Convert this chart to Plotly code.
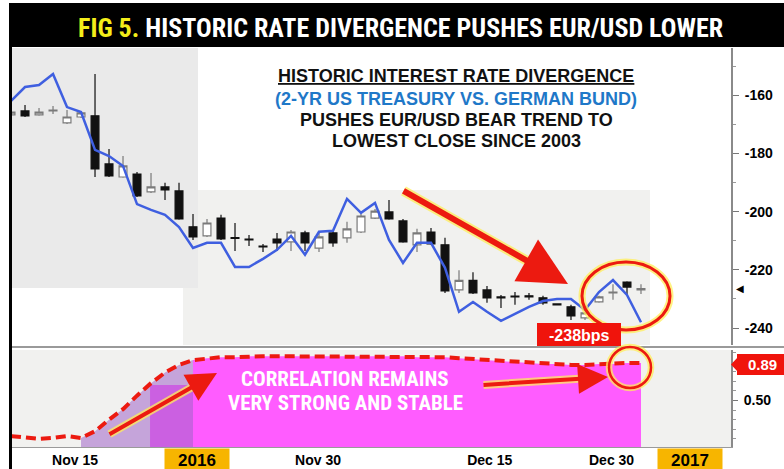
import math
import plotly.graph_objects as go

# ---------------- data ----------------
idx = list(range(46))

spread = [-162.0, -157.2, -156.5, -152.7, -164.1, -165.8, -178.8, -180.9, -184.3, -197.4,
          -199.4, -201.1, -205.3, -212.5, -210.7, -210.7, -219.0, -219.0, -216.2, -213.1,
          -208.3, -214.8, -206.9, -206.6, -195.6, -200.4, -197.0, -209.7, -217.6, -210.7,
          -210.7, -219.3, -234.4, -231.0, -234.4, -237.5, -235.1, -232.7, -230.7, -230.0,
          -230.0, -233.8, -227.6, -223.5, -228.6, -238.0]

opens = [-166.8, -165.4, -166.8, -165.4, -169.5, -167.5, -167.1, -183.6, -188.1, -187.1,
         -193.2, -191.5, -192.9, -205.2, -208.3, -202.2, -208.9, -209.4, -211.8, -209.4,
         -210.4, -207.3, -212.5, -207.3, -209.0, -207.0, -202.2, -200.1, -203.2, -211.4,
         -207.0, -211.4, -226.9, -223.6, -226.9, -229.3, -229.0, -228.9, -229.6, -231.7,
         -232.7, -236.5, -231.0, -227.9, -224.2, -226.9]
highs = [-165.1, -163.4, -164.4, -163.7, -165.1, -165.4, -152.7, -178.5, -180.9, -186.4,
         -186.7, -190.1, -190.1, -200.8, -202.5, -201.1, -203.9, -208.0, -211.1, -207.3,
         -206.3, -206.6, -207.0, -206.6, -203.5, -200.8, -199.1, -196.0, -202.5, -205.9,
         -205.6, -209.0, -220.1, -220.8, -225.5, -228.6, -227.6, -227.9, -228.9, -231.7,
         -232.0, -234.4, -228.9, -224.9, -223.9, -224.9]
lows = [-167.1, -167.5, -167.1, -166.5, -169.9, -167.8, -188.1, -188.1, -188.4, -195.0,
        -193.6, -196.0, -202.8, -209.7, -208.7, -209.7, -213.5, -211.8, -213.9, -213.5,
        -213.5, -213.5, -213.9, -212.1, -210.7, -207.3, -202.5, -202.8, -210.7, -213.9,
        -211.4, -227.9, -227.9, -228.3, -231.3, -233.1, -232.0, -230.3, -232.0, -232.0,
        -237.2, -237.2, -231.3, -230.3, -228.6, -228.3]
closes = [-165.8, -167.1, -165.8, -165.1, -167.5, -166.1, -185.3, -187.7, -184.3, -194.6,
          -191.5, -192.5, -202.5, -208.7, -203.9, -209.4, -209.2, -209.7, -212.1, -210.7,
          -207.0, -210.7, -208.7, -210.7, -205.9, -201.5, -199.8, -202.5, -210.4, -207.3,
          -211.1, -227.2, -223.6, -227.9, -229.6, -229.6, -229.3, -229.3, -231.3, -232.0,
          -235.8, -234.8, -229.3, -227.6, -225.9, -226.4]

corr = [0.13, 0.11, 0.10, 0.11, 0.13, 0.11, 0.18, 0.30, 0.41, 0.55,
        0.68, 0.79, 0.87, 0.92, 0.94, 0.95, 0.95, 0.96, 0.96, 0.96,
        0.96, 0.96, 0.96, 0.96, 0.96, 0.96, 0.96, 0.96, 0.96, 0.95,
        0.95, 0.95, 0.94, 0.93, 0.92, 0.91, 0.90, 0.89, 0.88, 0.88,
        0.87, 0.87, 0.88, 0.88, 0.89, 0.89]

tick_pos = [4.57, 21.93, 34.2, 42.9]
tick_text = ["Nov 15", "Nov 30", "Dec 15", "Dec 30"]
year_pos = [13.3, 48.5]
year_text = ["2016", "2017"]
y_ticks = [-240, -220, -200, -180, -160]
corr_ticks = [0.5]

# ---------------- layout helpers (pixel -> paper) ----------------
W, H = 784, 469
L, R, T, B = 12, 731, 48, 447


def px(x):
    return (x - L) / (R - L)


def py(y):
    return (B - y) / (B - T)


NARROW = "Liberation Sans Narrow, Arial Narrow, Roboto Condensed, DejaVu Sans Condensed, Liberation Sans, sans-serif"
SANS = "Liberation Sans, Arial, sans-serif"
RED = "#ec1a10"
GLOW = "rgba(255,238,90,0.75)"

fig = go.Figure()

# correlation fills
fig.add_trace(go.Scatter(x=idx[5:14], y=corr[5:14], mode="lines", line=dict(width=0),
                         fill="tozeroy", fillcolor="rgba(160,100,200,0.55)",
                         xaxis="x", yaxis="y2", hoverinfo="skip"))
fig.add_trace(go.Scatter(x=idx[13:], y=corr[13:], mode="lines", line=dict(width=0),
                         fill="tozeroy", fillcolor="#ff5cff",
                         xaxis="x", yaxis="y2", hoverinfo="skip"))
fig.add_trace(go.Scatter(x=idx, y=corr, mode="lines",
                         line=dict(color=RED, width=4, dash="10px,5px"),
                         xaxis="x", yaxis="y2"))

# candles
fig.add_trace(go.Candlestick(x=idx, open=opens, high=highs, low=lows, close=closes,
                             increasing=dict(line=dict(color="#7a7a7a", width=1.2), fillcolor="white"),
                             decreasing=dict(line=dict(color="#111111", width=1.2), fillcolor="#111111"),
                             whiskerwidth=0, xaxis="x", yaxis="y"))
# spread line
fig.add_trace(go.Scatter(x=idx, y=spread, mode="lines", line=dict(color="#3f5fe0", width=2.5),
                         xaxis="x", yaxis="y"))

shapes = []
# background panels
shapes.append(dict(type="rect", xref="paper", yref="paper", x0=px(12), x1=px(198), y0=py(288), y1=py(48),
                   fillcolor="#eaeaea", line_width=0, layer="below"))
shapes.append(dict(type="rect", xref="paper", yref="paper", x0=px(198), x1=px(731), y0=py(190), y1=py(48),
                   fillcolor="white", line_width=0, layer="below"))
shapes.append(dict(type="rect", xref="paper", yref="paper", x0=px(650), x1=px(731), y0=py(345), y1=py(48),
                   fillcolor="white", line_width=0, layer="below"))
shapes.append(dict(type="rect", xref="paper", yref="paper", x0=px(12), x1=px(183), y0=py(345), y1=py(288),
                   fillcolor="white", line_width=0, layer="below"))
# magenta text box in lower panel
shapes.append(dict(type="rect", xref="x", yref="y2", x0=9.93, x1=13.0, y0=0.0, y1=0.66,
                   fillcolor="#ff5cff", line_width=0, layer="below"))
# title bar
shapes.append(dict(type="rect", xref="paper", yref="paper", x0=px(9), x1=px(784), y0=py(47), y1=py(3),
                   fillcolor="black", line_width=0))
# left border
shapes.append(dict(type="line", xref="paper", yref="paper", x0=px(10.5), x1=px(10.5), y0=py(469), y1=py(46),
                   line=dict(color="black", width=3)))
# separator between panels
shapes.append(dict(type="line", xref="paper", yref="paper", x0=px(12), x1=px(784), y0=py(347), y1=py(347),
                   line=dict(color="#9a9a9a", width=2)))
# ellipses (glow + red)
for (x0, x1, y0, y1, w) in [(582, 670, 330, 262, 3), (609, 651, 388, 347, 2.5)]:
    shapes.append(dict(type="circle", xref="paper", yref="paper", x0=px(x0), x1=px(x1), y0=py(y0), y1=py(y1),
                       line=dict(color=GLOW, width=w + 4)))
    shapes.append(dict(type="circle", xref="paper", yref="paper", x0=px(x0), x1=px(x1), y0=py(y0), y1=py(y1),
                       line=dict(color=RED, width=w)))
# -238bps box
shapes.append(dict(type="rect", xref="paper", yref="paper", x0=px(537), x1=px(621), y0=py(346), y1=py(323),
                   fillcolor="#f0140c", line_width=0))
# 0.89 box with pointer
shapes.append(dict(type="rect", xref="paper", yref="paper", x0=px(737), x1=px(784), y0=py(375), y1=py(354),
                   fillcolor="#f0140c", line_width=0))
shapes.append(dict(type="path", xref="paper", yref="paper",
                   path=f"M {px(731)} {py(364.5)} L {px(738)} {py(357)} L {px(738)} {py(372)} Z",
                   fillcolor="#f0140c", line_width=0))

ann = []
# title
ann.append(dict(xref="paper", yref="paper", x=px(401), y=py(28), xanchor="center", yanchor="middle",
                text='<span style="color:#f3ee1a">FIG 5.</span> HISTORIC RATE DIVERGENCE PUSHES EUR/USD LOWER',
                showarrow=False, font=dict(family=NARROW, size=26, color="white", weight="bold")))
# text block
block = [("<u>HISTORIC INTEREST RATE DIVERGENCE</u>", "#111111", 76),
         ("(2-YR US TREASURY VS. GERMAN BUND)", "#1f78c8", 99),
         ("PUSHES EUR/USD BEAR TREND TO", "#111111", 120),
         ("LOWEST CLOSE SINCE 2003", "#111111", 141)]
for t, c, yy in block:
    ann.append(dict(xref="paper", yref="paper", x=px(456), y=py(yy), xanchor="center", yanchor="middle",
                    text=f"<b>{t}</b>", showarrow=False, font=dict(family=SANS, size=18, color=c)))


def arrow(tail, head, width, size, glow=True):
    res = []
    dx, dy = head[0] - tail[0], head[1] - tail[1]
    n = math.hypot(dx, dy)
    back = width * size * 2.2
    gh = (head[0] - dx / n * back, head[1] - dy / n * back)
    if glow:
        res.append(dict(xref="paper", yref="paper", x=px(gh[0]), y=py(gh[1]), ax=tail[0] - gh[0],
                        ay=tail[1] - gh[1], text="", showarrow=True, arrowhead=0,
                        arrowwidth=width + 4, arrowcolor=GLOW))
    res.append(dict(xref="paper", yref="paper", x=px(head[0]), y=py(head[1]), ax=tail[0] - head[0],
                    ay=tail[1] - head[1], text="", showarrow=True, arrowhead=2, arrowsize=size,
                    arrowwidth=width, arrowcolor=RED))
    return res


ann += arrow((402, 190), (568, 284), 6, 1.6)
ann += arrow((108, 435), (217, 373), 4, 1.5)
ann += arrow((482, 385), (608, 377), 4, 1.5)

ann.append(dict(xref="paper", yref="paper", x=px(579), y=py(335), xanchor="center", yanchor="middle",
                text="<b>-238bps</b>", showarrow=False, font=dict(family=SANS, size=16, color="white")))
ann.append(dict(xref="paper", yref="paper", x=px(762), y=py(364.5), xanchor="center", yanchor="middle",
                text="<b>0.89</b>", showarrow=False, font=dict(family=SANS, size=15, color="white")))
ann.append(dict(xref="paper", yref="paper", x=px(740), y=py(288), xanchor="center", yanchor="middle",
                text="◀", showarrow=False, font=dict(family="DejaVu Sans", size=10, color="black")))
ann.append(dict(xref="paper", yref="paper", x=px(345), y=py(379), xanchor="center", yanchor="middle",
                text="<b>CORRELATION REMAINS</b>", showarrow=False,
                font=dict(family=NARROW, size=21, color="white")))
ann.append(dict(xref="paper", yref="paper", x=px(345), y=py(403), xanchor="center", yanchor="middle",
                text="<b>VERY STRONG AND STABLE</b>", showarrow=False,
                font=dict(family=NARROW, size=21, color="white")))
for p, t in zip(year_pos, year_text):
    ann.append(dict(xref="x", yref="paper", x=p, y=py(459.5), xanchor="center", yanchor="middle",
                    text=f"<b>{t}</b>", showarrow=False, width=62, height=20, bgcolor="#f7b500",
                    font=dict(family=SANS, size=17, color="black")))

fig.update_layout(
    width=W, height=H, autosize=False,
    margin=dict(l=L, r=W - R, t=T, b=H - B, pad=0, autoexpand=False),
    paper_bgcolor="white", plot_bgcolor="#f1f1ef",
    showlegend=False, boxgap=0.2,
    shapes=shapes, annotations=ann,
    xaxis=dict(domain=[0, 1], anchor="y2", range=[0.07, 51.43], showgrid=False, zeroline=False,
               automargin=False,
               rangeslider=dict(visible=False), tickmode="array", tickvals=tick_pos,
               ticktext=[f"<b>{t}</b>" for t in tick_text], ticks="",
               tickfont=dict(family=SANS, size=14, color="black"),
               showline=True, linecolor="#9a9a9a", linewidth=1),
    yaxis=dict(domain=[py(345), 1], anchor="x", side="right", range=[-245.8, -143.8], automargin=False,
               tickmode="array", tickvals=y_ticks, ticktext=[f"<b>{v}</b>" for v in y_ticks],
               ticks="outside", ticklen=6, tickcolor="#777", tickwidth=1,
               minor=dict(tickmode="linear", tick0=0, dtick=10, ticks="outside", ticklen=3, tickcolor="#999"),
               showgrid=False, zeroline=False, showline=True, linecolor="#8a8a8a", linewidth=2,
               tickfont=dict(family=SANS, size=14, color="black"), ticklabelstandoff=3),
    yaxis2=dict(domain=[0, py(350)], anchor="x", side="right", range=[0.016, 1.025], automargin=False,
                tickmode="array", tickvals=corr_ticks, ticktext=[f"<b>{v:.2f}</b>" for v in corr_ticks],
                ticks="outside", ticklen=5, tickcolor="#777",
                minor=dict(tickmode="linear", tick0=0, dtick=0.1, ticks="outside", ticklen=3, tickcolor="#999"),
                showgrid=False, zeroline=False, showline=True, linecolor="#8a8a8a", linewidth=2,
                tickfont=dict(family=SANS, size=14, color="black"), ticklabelstandoff=3),
)

fig.write_html("out.html", config={"displayModeBar": False, "responsive": False},
               post_script="document.body.style.margin='0';document.body.style.overflow='hidden';")
